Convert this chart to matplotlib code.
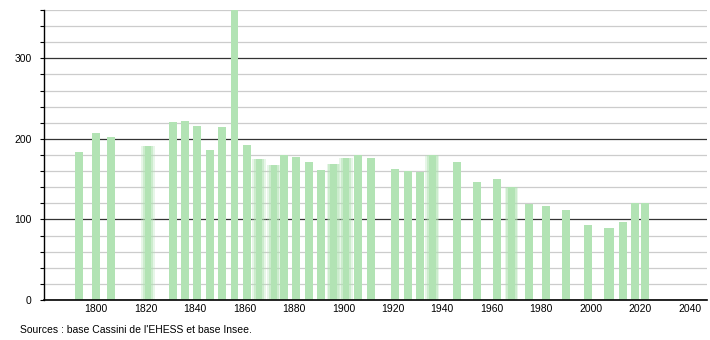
import matplotlib
matplotlib.use('Agg')
import matplotlib.pyplot as plt
from matplotlib.ticker import MultipleLocator

# census years and population
years = [1793, 1800, 1806, 1821, 1831, 1836, 1841, 1846, 1851, 1856,
         1861, 1866, 1872, 1876, 1881, 1886, 1891, 1896, 1901, 1906,
         1911, 1921, 1926, 1931, 1936, 1946, 1954, 1962, 1968, 1975,
         1982, 1990, 1999, 2007, 2008, 2013, 2018, 2022]
pop = [184, 207, 202, 191, 221, 222, 216, 186, 215, 365,
       192, 175, 168, 180, 177, 171, 161, 169, 176, 180,
       176, 163, 160, 159, 180, 171, 146, 150, 140, 119,
       117, 112, 93, 90, 90, 97, 120, 120]
# bars drawn with a soft edge in the original
soft_years = [1821, 1866, 1872, 1896, 1901, 1936, 1968]

x_ticks = list(range(1800, 2041, 20))
source = "Sources : base Cassini de l'EHESS et base Insee."

plt.rcParams['font.family'] = ['Liberation Sans', 'DejaVu Sans']

fig = plt.figure(figsize=(7.1, 3.4), dpi=100)
ax = fig.add_axes([44 / 710, 40 / 340, 663 / 710, 290 / 340])

bar_col = '#b2e3b4'
bw = 3.2
for yr, p in zip(years, pop):
    if yr in soft_years:
        ax.bar(yr, p, width=bw + 2.4, color=bar_col, alpha=0.3, zorder=2, linewidth=0)
        ax.bar(yr, p, width=bw + 1.0, color=bar_col, alpha=0.5, zorder=2, linewidth=0)
        ax.bar(yr, p, width=bw - 0.6, color=bar_col, zorder=3, linewidth=0)
    else:
        ax.bar(yr, p, width=bw, color=bar_col, zorder=3, linewidth=0)

ax.set_xlim(1779, 2047)
ax.set_ylim(0, 360)

ax.yaxis.set_major_locator(MultipleLocator(100))
ax.yaxis.set_minor_locator(MultipleLocator(20))
ax.grid(axis='y', which='minor', color='#cccccc', linewidth=0.9, zorder=1)
ax.grid(axis='y', which='major', color='#333333', linewidth=0.9, zorder=4)

ax.set_xticks(x_ticks)
ax.tick_params(axis='x', length=0, labelsize=7.5, pad=3)
ax.tick_params(axis='y', which='both', length=3, width=0.8, labelsize=7.5, pad=6)

for s in ['top', 'right']:
    ax.spines[s].set_visible(False)
ax.spines['left'].set_linewidth(1)
ax.spines['bottom'].set_linewidth(1.2)
ax.spines['left'].set_zorder(5)
ax.spines['bottom'].set_zorder(5)

fig.text(20 / 710, 1 - 330 / 340, source, fontsize=7.5, va='center', ha='left')

fig.savefig('out.png', dpi=100)
